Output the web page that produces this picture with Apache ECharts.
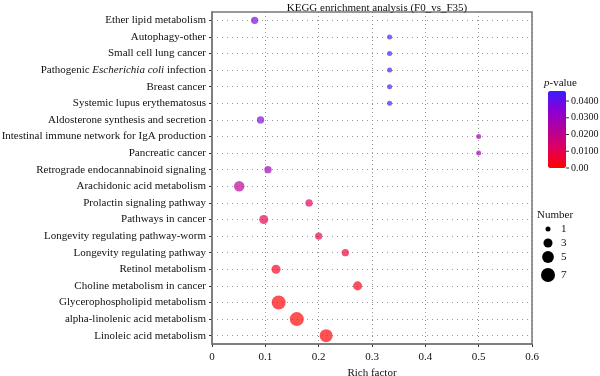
<!DOCTYPE html>
<html>
<head>
<meta charset="utf-8">
<script src="https://cdn.jsdelivr.net/npm/echarts@6/dist/echarts.min.js"></script>
<style>
  html, body { margin: 0; padding: 0; background: #fff; }
  #main { width: 600px; height: 376px; }
</style>
</head>
<body>
<div id="main"></div>
<script>
// pathways, top to bottom
const pathways = [
  'Ether lipid metabolism',
  'Autophagy-other',
  'Small cell lung cancer',
  'Pathogenic Escherichia coli infection',
  'Breast cancer',
  'Systemic lupus erythematosus',
  'Aldosterone synthesis and secretion',
  'Intestinal immune network for IgA production',
  'Pancreatic cancer',
  'Retrograde endocannabinoid signaling',
  'Arachidonic acid metabolism',
  'Prolactin signaling pathway',
  'Pathways in cancer',
  'Longevity regulating pathway-worm',
  'Longevity regulating pathway',
  'Retinol metabolism',
  'Choline metabolism in cancer',
  'Glycerophospholipid metabolism',
  'alpha-linolenic acid metabolism',
  'Linoleic acid metabolism'
];
const richFactor = [0.08, 0.333, 0.333, 0.333, 0.333, 0.333, 0.091, 0.5, 0.5, 0.105,
  0.051, 0.182, 0.097, 0.2, 0.25, 0.12, 0.273, 0.125, 0.159, 0.214];
const geneNumber = [2, 1, 1, 1, 1, 1, 2, 1, 1, 2, 4, 2, 3, 2, 2, 3, 3, 7, 7, 6];
const pValue = [0.037, 0.043, 0.043, 0.043, 0.043, 0.043, 0.036, 0.028, 0.028, 0.029,
  0.022, 0.012, 0.010, 0.008, 0.007, 0.004, 0.003, 0.0004, 0.0002, 0.0006];

const pTicks = [0, 0.01, 0.02, 0.03, 0.04];
const pTickLabels = ['0.00', '0.0100', '0.0200', '0.0300', '0.0400'];
const pMax = 0.046;
const sizeLegend = [1, 3, 5, 7];

const serif = '"Liberation Serif", "DejaVu Serif", serif';
const colorStops = ['#ff0000', '#e0005a', '#b4009a', '#8a00d4', '#3a1cff'];

// area proportional to count
function dotSize(n) {
  return Math.sqrt(28.5 * n - 3.5);
}

const points = pathways.map((name, i) => [richFactor[i], name, geneNumber[i], pValue[i]]);

const myChart = echarts.init(document.getElementById('main'));

// colour bar ticks and labels
const barTop = 91, barH = 77, barLeft = 548, barW = 18;
const barGraphics = [];
pTicks.forEach((v, i) => {
  const y = barTop + barH * (1 - v / pMax);
  barGraphics.push({
    type: 'line',
    shape: { x1: barLeft + barW, y1: y, x2: barLeft + barW + 3, y2: y },
    style: { stroke: '#333', lineWidth: 1 }
  });
  barGraphics.push({
    type: 'text', x: barLeft + barW + 5, y: y,
    style: { text: pTickLabels[i], font: '10px ' + serif, fill: '#111', textVerticalAlign: 'middle' }
  });
});
barGraphics.push({
  type: 'text', x: 544, y: 83,
  style: {
    text: '{i|p}{n|-value}',
    textVerticalAlign: 'middle',
    rich: {
      i: { fontFamily: serif, fontSize: 11, fontStyle: 'italic', fill: '#111' },
      n: { fontFamily: serif, fontSize: 11, fill: '#111' }
    }
  }
});

// size legend
const sizeGraphics = [{
  type: 'text', x: 537, y: 215,
  style: { text: 'Number', font: '11px ' + serif, fill: '#111', textVerticalAlign: 'middle' }
}];
const sizeY = [229, 243, 257, 275];
sizeLegend.forEach((n, i) => {
  sizeGraphics.push({
    type: 'circle',
    shape: { cx: 548, cy: sizeY[i], r: dotSize(n) / 2 },
    style: { fill: '#000' }
  });
  sizeGraphics.push({
    type: 'text', x: 561, y: sizeY[i],
    style: { text: String(n), font: '11px ' + serif, fill: '#111', textVerticalAlign: 'middle' }
  });
});

myChart.setOption({
  animation: false,
  backgroundColor: '#fff',
  textStyle: { fontFamily: serif },
  title: {
    text: 'KEGG enrichment analysis (F0_vs_F35)',
    left: 372,
    textAlign: 'center',
    top: -2,
    textStyle: { fontFamily: serif, fontSize: 11, fontWeight: 'normal', color: '#111' }
  },
  grid: { left: 212, right: 68, top: 12, bottom: 32, containLabel: false, outerBoundsMode: 'none' },
  xAxis: {
    type: 'value',
    min: 0,
    max: 0.6,
    interval: 0.1,
    name: 'Rich factor',
    nameLocation: 'middle',
    nameGap: 22,
    nameTextStyle: { fontFamily: serif, fontSize: 11, color: '#111' },
    axisLine: { show: true, lineStyle: { color: '#777', width: 1.5 } },
    axisTick: { show: true, length: 3, lineStyle: { color: '#333' } },
    axisLabel: {
      fontFamily: serif, fontSize: 11, color: '#111', margin: 8,
      formatter: v => v === 0 ? '0' : String(Math.round(v * 10) / 10)
    },
    splitLine: { show: true, lineStyle: { color: '#999', type: [1, 3], width: 1 } }
  },
  yAxis: {
    type: 'category',
    data: pathways,
    inverse: true,
    axisLine: { show: true, lineStyle: { color: '#777', width: 1.5 } },
    axisTick: { show: true, length: 3, alignWithLabel: true, lineStyle: { color: '#333' } },
    axisLabel: {
      fontFamily: serif, fontSize: 11, color: '#111', margin: 6,
      formatter: v => {
        if (v.indexOf('Escherichia coli') >= 0) {
          return '{n|Pathogenic }{i|Escherichia coli}{n| infection}';
        }
        return '{n|' + v + '}';
      },
      rich: {
        n: { fontFamily: serif, fontSize: 11, color: '#111' },
        i: { fontFamily: serif, fontSize: 11, color: '#111', fontStyle: 'italic' }
      }
    },
    splitLine: { show: false }
  },
  visualMap: {
    type: 'continuous',
    dimension: 3,
    seriesIndex: 0,
    min: 0,
    max: pMax,
    show: true,
    calculable: false,
    left: barLeft,
    top: barTop,
    itemWidth: barW,
    itemHeight: barH,
    padding: 0,
    text: null,
    showLabel: false,
    inRange: { color: colorStops, colorAlpha: 0.85 },
    outOfRange: { color: colorStops }
  },
  graphic: [
    {
      type: 'rect',
      shape: { x: 212, y: 12, width: 320, height: 332 },
      style: { fill: 'none', stroke: '#777', lineWidth: 1.5 },
      z: 5
    }
  ].concat(barGraphics, sizeGraphics),
  series: [{
    type: 'scatter',
    data: points,
    symbolSize: d => dotSize(d[2]),
    z: 10,
    markLine: {
      silent: true,
      symbol: 'none',
      label: { show: false },
      lineStyle: { color: '#999', type: [1, 4], width: 1 },
      emphasis: { disabled: true },
      data: pathways.map(p => ({ yAxis: p }))
    }
  }]
});
</script>
</body>
</html>
